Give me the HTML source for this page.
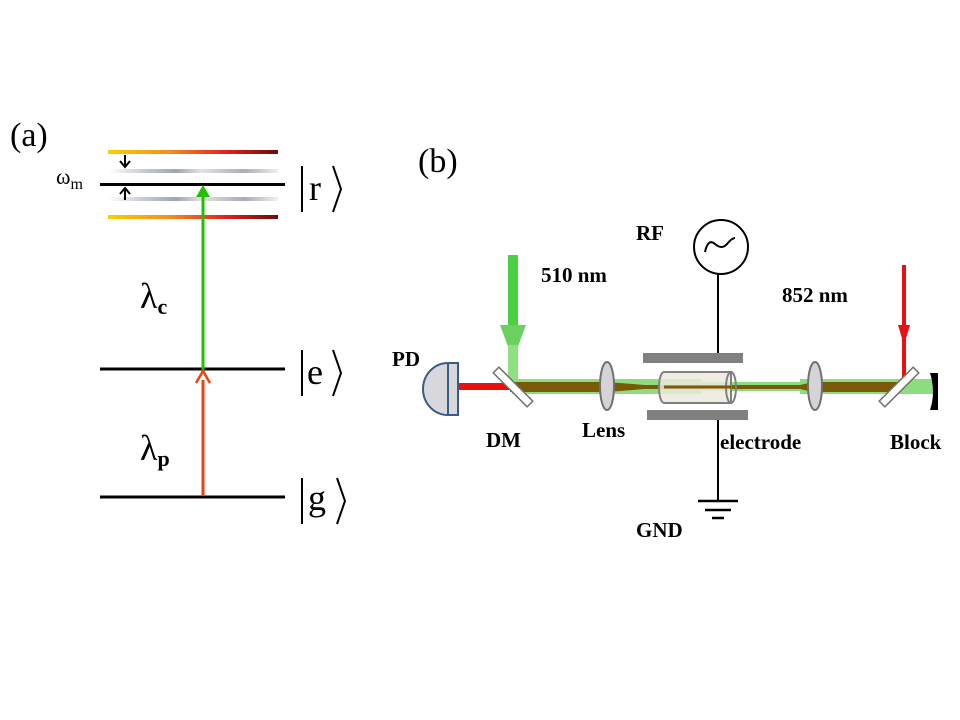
<!DOCTYPE html>
<html><head><style>body{margin:0;background:#fff}svg{display:block}</style></head><body>
<svg width="960" height="720" xmlns="http://www.w3.org/2000/svg" font-family="Liberation Serif, serif">
<defs>
<linearGradient id="hot" x1="0" x2="1"><stop offset="0" stop-color="#f5d000"/><stop offset="0.35" stop-color="#f5901e"/><stop offset="0.7" stop-color="#e0201e"/><stop offset="1" stop-color="#6a0a0a"/></linearGradient>
<linearGradient id="gr" x1="0" x2="1"><stop offset="0" stop-color="#fff"/><stop offset="0.2" stop-color="#c8ccd4"/><stop offset="0.4" stop-color="#a0a4ae"/><stop offset="0.55" stop-color="#e0e2e6"/><stop offset="0.8" stop-color="#a8acb4"/><stop offset="1" stop-color="#eee"/></linearGradient>
</defs>
<text x="10" y="146" font-size="34">(a)</text>
<text x="56" y="184" font-size="22">ω<tspan font-size="16" dy="5">m</tspan></text>
<rect x="108" y="150" width="170" height="4" fill="url(#hot)"/>
<rect x="108" y="169" width="170" height="4" fill="url(#gr)"/>
<rect x="108" y="197" width="170" height="4" fill="url(#gr)"/>
<rect x="108" y="215" width="170" height="4" fill="url(#hot)"/>
<line x1="100" y1="184.5" x2="285" y2="184.5" stroke="#000" stroke-width="3"/>
<line x1="100" y1="369" x2="285" y2="369" stroke="#000" stroke-width="3"/>
<line x1="100" y1="497" x2="285" y2="497" stroke="#000" stroke-width="3"/>
<path d="M125 155v12M120 161l5 6 5-6M125 200v-12M120 194l5-6 5 6" stroke="#000" stroke-width="2" fill="none"/>
<line x1="203" y1="370" x2="203" y2="195" stroke="#22c000" stroke-width="3"/>
<polygon points="196,197 203,185 210,197" fill="#22c000"/>
<line x1="203" y1="496" x2="203" y2="380" stroke="#f04010" stroke-width="3"/>
<path d="M196 383l7-12 7 12" stroke="#f04010" stroke-width="2.5" fill="none"/>
<text x="140" y="308" font-size="36">λ<tspan font-size="22" font-weight="bold" dy="6">c</tspan></text>
<text x="140" y="460" font-size="36">λ<tspan font-size="22" font-weight="bold" dy="6">p</tspan></text>
<g stroke="#000" stroke-width="2" fill="none">
<line x1="302" y1="166" x2="302" y2="212"/><path d="M333 166l8 23-8 23"/>
<line x1="302" y1="350" x2="302" y2="396"/><path d="M333 350l8 23-8 23"/>
<line x1="302" y1="478" x2="302" y2="524"/><path d="M337 478l8 23-8 23"/>
</g>
<g font-size="36"><text x="309" y="200">r</text><text x="307" y="384">e</text><text x="308" y="510">g</text></g>
<text x="418" y="172" font-size="34">(b)</text>
<g font-weight="bold" font-size="21">
<text x="636" y="240">RF</text><text x="541" y="282">510 nm</text><text x="782" y="302">852 nm</text>
<text x="392" y="366">PD</text><text x="486" y="447">DM</text><text x="582" y="437">Lens</text>
<text x="720" y="449">electrode</text><text x="890" y="449">Block</text><text x="636" y="537">GND</text></g>
<rect x="508" y="255" width="10" height="100" fill="#4ad040"/>
<polygon points="500,325 526,325 513,360" fill="#6cd060"/>
<rect x="508" y="345" width="10" height="40" fill="#8ee080"/>
<rect x="512" y="379" width="190" height="15" fill="#8edc80"/>
<rect x="702" y="382" width="120" height="9" fill="#8edc80"/>
<rect x="800" y="379" width="135" height="15" fill="#8edc80"/>
<rect x="458" y="383" width="55" height="7" fill="#e81010"/>
<polygon points="510,382 607,382 645,385 800,385 813,382 900,382 900,392 813,392 800,389 645,389 607,392 510,392" fill="#7a5a08"/>
<line x1="904" y1="265" x2="904" y2="385" stroke="#e81010" stroke-width="4"/>
<polygon points="898,325 910,325 904,345" fill="#e81010"/>
<g transform="rotate(45 513 387)"><rect x="489" y="383" width="48" height="8" fill="#fff" stroke="#707070" stroke-width="1.5"/></g>
<g transform="rotate(-45 899 387)"><rect x="875" y="383" width="48" height="8" fill="#fff" stroke="#707070" stroke-width="1.5"/></g>
<path d="M930 373h8v37h-8q6-18 0-37z" fill="#000"/>
<path d="M458 363v52h-10a25 26 0 0 1 0-52z" fill="#d8d8dc" stroke="#3a5a88" stroke-width="2"/>
<rect x="448" y="363" width="10" height="52" fill="#d8d8dc" stroke="#3a5a88" stroke-width="2"/>
<ellipse cx="607" cy="386" rx="7" ry="24" fill="#d4d4d8" stroke="#707070" stroke-width="2"/>
<ellipse cx="815" cy="386" rx="7" ry="24" fill="#d4d4d8" stroke="#707070" stroke-width="2"/>
<rect x="643" y="353" width="100" height="10" fill="#808080"/>
<rect x="647" y="410" width="101" height="10" fill="#808080"/>
<path d="M664 372h67v31h-67a5 15.5 0 0 1 0-31z" fill="#ece9dc" fill-opacity="0.85" stroke="#808080" stroke-width="2"/>
<ellipse cx="731" cy="387.5" rx="5" ry="15.5" fill="none" stroke="#808080" stroke-width="2"/>
<line x1="664" y1="387" x2="731" y2="387" stroke="#7a5a08" stroke-width="3"/>
<circle cx="721" cy="247" r="27" fill="#fff" stroke="#000" stroke-width="2"/>
<path d="M705 250q3-14 10-8t12 0 8-6" fill="none" stroke="#000" stroke-width="2" transform="translate(0,2)"/>
<line x1="718" y1="274" x2="718" y2="353" stroke="#000" stroke-width="2"/>
<line x1="718" y1="420" x2="718" y2="501" stroke="#000" stroke-width="2"/>
<line x1="698" y1="501" x2="738" y2="501" stroke="#000" stroke-width="2.5"/>
<line x1="705" y1="510" x2="731" y2="510" stroke="#000" stroke-width="2.5"/>
<line x1="712" y1="518" x2="724" y2="518" stroke="#000" stroke-width="2.5"/>
</svg>
</body></html>
